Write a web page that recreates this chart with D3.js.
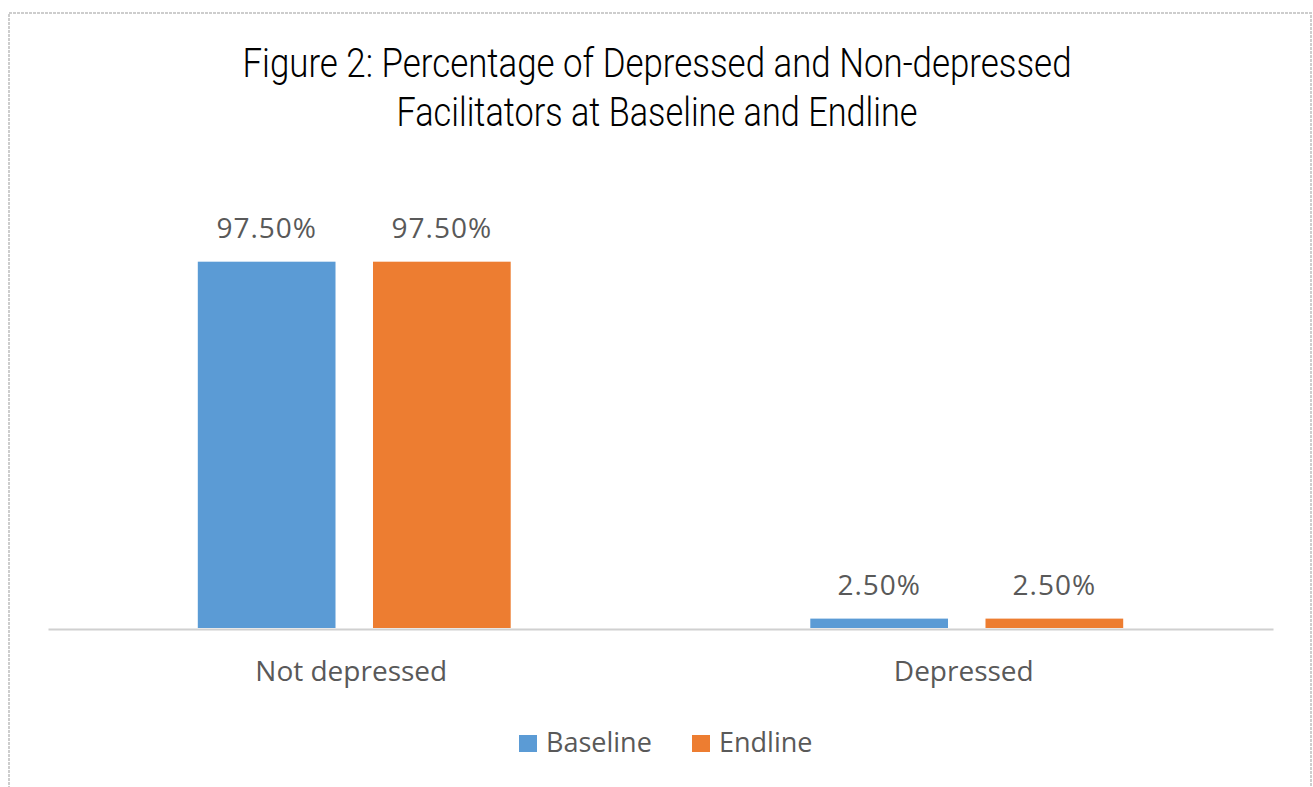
<!DOCTYPE html>
<html>
<head>
<meta charset="utf-8">
<script src="https://cdn.jsdelivr.net/npm/d3@7"></script>
<style>
  html, body { margin: 0; padding: 0; background: #fff; }
  svg { display: block; }
</style>
</head>
<body>
<svg id="chart" width="1313" height="787"></svg>
<script>
const categories = ["Not depressed", "Depressed"];
const seriesNames = ["Baseline", "Endline"];
const baselineValues = [97.5, 2.5];
const endlineValues = [97.5, 2.5];
const valueLabels = [["97.50%", "97.50%"], ["2.50%", "2.50%"]];
const titleLines = ["Figure 2: Percentage of Depressed and Non-depressed", "Facilitators at Baseline and Endline"];
const colors = ["#5B9BD5", "#ED7D31"];

const data = categories.map((c, i) => ({
  category: c,
  values: [
    { series: seriesNames[0], value: baselineValues[i], label: valueLabels[i][0] },
    { series: seriesNames[1], value: endlineValues[i], label: valueLabels[i][1] }
  ]
}));

const svg = d3.select("#chart");

// outer frame
svg.append("rect")
  .attr("x", 9).attr("y", 13)
  .attr("width", 1302).attr("height", 820)
  .attr("fill", "none")
  .attr("stroke", "#cdcdcd")
  .attr("stroke-width", 2)
  .attr("stroke-dasharray", "3,1");

// title
const titleWidths = [829, 521];
const titleY = [77, 126];
svg.selectAll("text.title").data(titleLines).enter().append("text")
  .attr("class", "title")
  .attr("x", 657)
  .attr("y", (d, i) => titleY[i])
  .attr("text-anchor", "middle")
  .attr("font-family", "Roboto, 'Liberation Sans', sans-serif")
  .attr("font-weight", 300)
  .attr("font-size", 40)
  .attr("fill", "#000")
  .attr("textLength", (d, i) => titleWidths[i])
  .attr("lengthAdjust", "spacingAndGlyphs")
  .text(d => d);

const plotLeft = 48, plotRight = 1273, baseY = 628;

const x0 = d3.scaleBand().domain(categories).range([plotLeft, plotRight]).paddingInner(0).paddingOuter(0);
const x1 = d3.scaleBand().domain(seriesNames).range([0, x0.bandwidth()]).paddingInner(0.214).paddingOuter(0.855);
const y = d3.scaleLinear().domain([0, 100]).range([baseY, baseY - 375.7]);
const color = d3.scaleOrdinal().domain(seriesNames).range(colors);

const groups = svg.selectAll("g.cat").data(data).enter().append("g")
  .attr("class", "cat")
  .attr("transform", d => `translate(${x0(d.category)},0)`);

groups.selectAll("rect").data(d => d.values).enter().append("rect")
  .attr("x", d => x1(d.series))
  .attr("y", d => y(d.value))
  .attr("width", x1.bandwidth())
  .attr("height", d => y(0) - y(d.value))
  .attr("fill", d => color(d.series));

groups.selectAll("text.val").data(d => d.values).enter().append("text")
  .attr("class", "val")
  .attr("x", d => x1(d.series) + x1.bandwidth() / 2)
  .attr("y", d => y(d.value) - 24)
  .attr("text-anchor", "middle")
  .attr("font-family", "'Open Sans', sans-serif")
  .attr("font-size", 28)
  .attr("letter-spacing", 1)
  .attr("fill", "#595959")
  .text(d => d.label);

// x axis
const axis = svg.append("g")
  .attr("transform", `translate(0,${baseY + 1})`)
  .call(d3.axisBottom(x0).tickSize(0).tickSizeOuter(0));
axis.select(".domain").attr("stroke", "#d0d0d0").attr("stroke-width", 2);
axis.selectAll(".tick text")
  .attr("y", 52).attr("dy", 0)
  .attr("dx", -3)
  .attr("font-family", "'Open Sans', sans-serif")
  .attr("font-size", 28)
  .attr("fill", "#595959");

// legend
const legendItems = [
  { name: seriesNames[0], sx: 519, tx: 546 },
  { name: seriesNames[1], sx: 692, tx: 719 }
];
const legend = svg.append("g");
legend.selectAll("rect").data(legendItems).enter().append("rect")
  .attr("x", d => d.sx).attr("y", 735)
  .attr("width", 18).attr("height", 17)
  .attr("fill", d => color(d.name));
legend.selectAll("text").data(legendItems).enter().append("text")
  .attr("x", d => d.tx).attr("y", 752)
  .attr("font-family", "'Open Sans', sans-serif")
  .attr("font-size", 27)
  .attr("fill", "#595959")
  .text(d => d.name);
</script>
</body>
</html>
